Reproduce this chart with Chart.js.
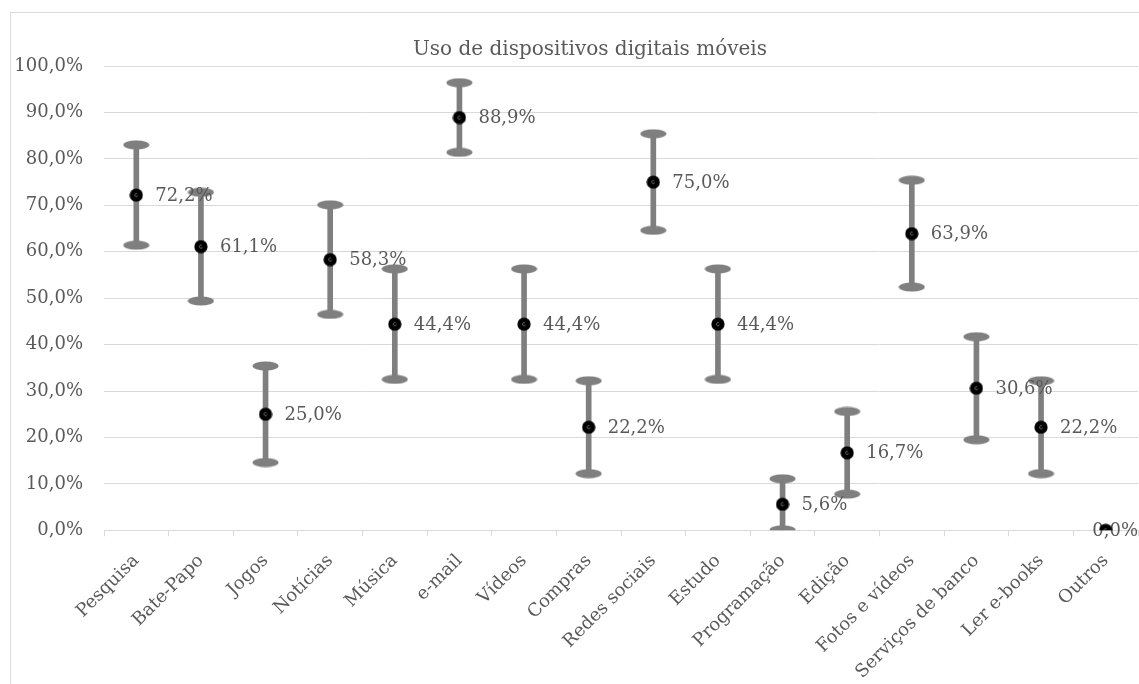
<!DOCTYPE html>
<html>
<head>
<meta charset="utf-8">
<script src="https://cdn.jsdelivr.net/npm/chart.js@4/dist/chart.umd.min.js"></script>
<style>
  html, body { margin: 0; padding: 0; background: #fff; overflow: hidden; }
  #frame {
    position: absolute;
    left: 10px;
    top: 12px;
    width: 1160px;
    height: 700px;
    border: 1px solid #d9d9d9;
  }
</style>
</head>
<body>
<div id="frame">
  <canvas id="chart" width="1160" height="700"></canvas>
</div>
<script>
const categories = ['Pesquisa', 'Bate-Papo', 'Jogos', 'Notícias', 'Música', 'e-mail', 'Vídeos', 'Compras',
  'Redes sociais', 'Estudo', 'Programação', 'Edição', 'Fotos e vídeos', 'Serviços de banco', 'Ler e-books', 'Outros']
const usage = [72.2, 61.1, 25.0, 58.3, 44.4, 88.9, 44.4, 22.2, 75.0, 44.4, 5.6, 16.7, 63.9, 30.6, 22.2, 0.0]
// error bar half length
const errorMargin = [10.8, 11.7, 10.4, 11.8, 11.9, 7.5, 11.9, 10.0, 10.4, 11.9, 5.5, 8.9, 11.5, 11.1, 10.0, 0]
const yTicks = [0, 10, 20, 30, 40, 50, 60, 70, 80, 90, 100]
const chartTitle = 'Uso de dispositivos digitais móveis'

const fontFamily = "'DejaVu Serif', serif"
const textColor = '#595959'
const barColor = '#7f7f7f'
const gridColor = '#d9d9d9'

const fmt = (v) => v.toFixed(1).replace('.', ',') + '%'

// cap shape: flat ellipse like the Excel error bar ends
const makeCap = () => {
  const c = document.createElement('canvas')
  c.width = 27
  c.height = 10
  const g = c.getContext('2d')
  g.fillStyle = barColor
  g.beginPath()
  g.ellipse(13.5, 5, 13, 4.6, 0, 0, Math.PI * 2)
  g.fill()
  return c
}

const makeMarker = () => {
  const c = document.createElement('canvas')
  c.width = 14
  c.height = 14
  const g = c.getContext('2d')
  g.fillStyle = '#000'
  g.beginPath()
  g.arc(7, 7, 6.6, 0, Math.PI * 2)
  g.fill()
  g.strokeStyle = 'rgba(255,255,255,0.7)'
  g.lineWidth = 0.6
  g.beginPath()
  g.arc(7, 7, 1.5, 0.3, Math.PI * 1.7)
  g.stroke()
  return c
}

const capImg = makeCap()
const markerImg = makeMarker()

// title centred on the whole chart object, not on the padded box
const titlePlugin = {
  id: 'centerTitle',
  afterDraw(chart) {
    const ctx = chart.ctx
    ctx.save()
    ctx.font = `20px ${fontFamily}`
    ctx.fillStyle = textColor
    ctx.textAlign = 'center'
    ctx.textBaseline = 'middle'
    ctx.fillText(chartTitle, chart.width / 2 - 1, 37)
    ctx.restore()
  }
}

const labelPlugin = {
  id: 'valueLabels',
  afterDatasetDraw(chart, args) {
    if (args.index !== 2) return
    const ctx = chart.ctx
    const meta = chart.getDatasetMeta(3)
    ctx.save()
    ctx.font = `18px ${fontFamily}`
    ctx.fillStyle = textColor
    ctx.textBaseline = 'middle'
    meta.data.forEach((pt, i) => {
      const text = fmt(usage[i])
      const w = ctx.measureText(text).width
      let x = pt.x + 19
      if (x + w > chart.chartArea.right) x = chart.chartArea.right - w
      ctx.fillText(text, x, pt.y + 1)
    })
    ctx.restore()
  }
}

new Chart(document.getElementById('chart'), {
  type: 'bar',
  data: {
    labels: categories,
    datasets: [
      {
        type: 'bar',
        data: usage.map((v, i) => [v - errorMargin[i], v + errorMargin[i]]),
        backgroundColor: barColor,
        borderWidth: 0,
        barThickness: 5,
        order: 4
      },
      {
        type: 'line',
        data: usage.map((v, i) => errorMargin[i] > 0 ? v + errorMargin[i] : null),
        showLine: false,
        pointStyle: capImg,
        order: 3
      },
      {
        type: 'line',
        data: usage.map((v, i) => errorMargin[i] > 0 ? v - errorMargin[i] : null),
        showLine: false,
        pointStyle: capImg,
        order: 2
      },
      {
        type: 'line',
        data: usage,
        showLine: false,
        pointStyle: markerImg,
        order: 1
      }
    ]
  },
  options: {
    responsive: false,
    animation: false,
    events: [],
    layout: { padding: { left: 3, right: 33, top: 53, bottom: 16 } },
    plugins: {
      legend: { display: false },
      tooltip: { enabled: false },
      title: { display: false }
    },
    scales: {
      x: {
        offset: true,
        grid: {
          offset: true,
          drawOnChartArea: false,
          drawTicks: true,
          tickLength: 6,
          color: gridColor
        },
        border: { color: gridColor },
        ticks: {
          color: textColor,
          font: { family: fontFamily, size: 18 },
          maxRotation: 45,
          minRotation: 45,
          padding: 14,
          autoSkip: false
        },
        afterFit: (scale) => {
          scale.paddingLeft = 0
          scale.paddingRight = 0
        }
      },
      y: {
        min: 0,
        max: 100,
        afterBuildTicks: (scale) => { scale.ticks = yTicks.map(v => ({ value: v })) },
        afterFit: (scale) => { scale.width = 90 },
        grid: { color: gridColor, drawTicks: false },
        border: { display: false },
        ticks: {
          color: textColor,
          font: { family: fontFamily, size: 18 },
          padding: 21,
          callback: (v) => fmt(v)
        }
      }
    }
  },
  plugins: [labelPlugin, titlePlugin]
})
</script>
</body>
</html>
